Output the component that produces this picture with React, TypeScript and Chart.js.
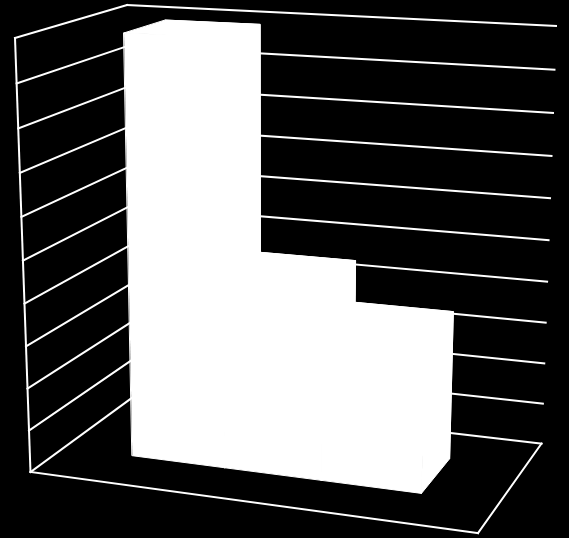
import { useEffect, useRef } from "react"
import { Chart, registerables } from "chart.js"

Chart.register(...registerables)

const categories = [""]
const seriesNames = ["Series 1", "Series 2", "Series 3"]
const series1 = [9.93]
const series2 = [4.55]
const series3 = [3.55]
const seriesValues = [series1, series2, series3]
const axisMax = 10
const axisStep = 1

const WIDTH = 569
const HEIGHT = 538

// box corners on screen: front/back, left/right, bottom/top
const FLB = [30.5, 472]
const FRB = [478, 533]
const BLB = [134.5, 396]
const BRB = [541.5, 443.6]
const FLT = [15, 38]
const FRT = [495, 55]
const BLT = [127, 5]
const BRT = [556, 26]

// perspective foreshortening along each axis
const warp = (t: number, a: number) => (t * a) / (1 + (a - 1) * t)

const DEPTH_FRONT = 0.3
const DEPTH_BACK = 0.7

function project(u: number, v: number, w: number) {
  const uu = warp(u, 0.92)
  const vv = warp(v, 0.95)
  const ww = warp(w, 1.15)
  const mix = (a: number[], b: number[], t: number) => [a[0] + (b[0] - a[0]) * t, a[1] + (b[1] - a[1]) * t]
  const bottom = mix(mix(FLB, FRB, uu), mix(BLB, BRB, uu), ww)
  const top = mix(mix(FLT, FRT, uu), mix(BLT, BRT, uu), ww)
  return mix(bottom, top, vv)
}

const box3d = {
  id: "box3d",
  beforeDatasetsDraw(chart: any) {
    const { ctx, chartArea: area } = chart
    const yScale = chart.scales.y
    const toU = (px: number) => (px - area.left) / (area.right - area.left)
    const toV = (px: number) => (area.bottom - px) / (area.bottom - area.top)

    const line = (a: number[], b: number[]) => {
      ctx.beginPath()
      ctx.moveTo(a[0], a[1])
      ctx.lineTo(b[0], b[1])
      ctx.stroke()
    }

    ctx.save()
    ctx.strokeStyle = yScale.options.grid.color
    ctx.lineWidth = yScale.options.grid.lineWidth
    ctx.lineCap = "square"

    // walls: one line per tick on the side wall and the back wall
    yScale.ticks.forEach((tick: any) => {
      const v = toV(yScale.getPixelForValue(tick.value))
      line(project(0, v, 0), project(0, v, 1))
      line(project(0, v, 1), project(1, v, 1))
    })

    // axis edges
    line(project(0, 0, 0), project(0, 1, 0))
    line(project(0, 0, 0), project(1, 0, 0))
    line(project(1, 0, 0), project(1, 0, 1))

    // bars, back to front faces
    chart.data.datasets.forEach((dataset: any, i: number) => {
      chart.getDatasetMeta(i).data.forEach((bar: any) => {
        const { x, y, base, width } = bar.getProps(["x", "y", "base", "width"], true)
        const u0 = toU(x - width / 2)
        const u1 = toU(x + width / 2)
        const v0 = toV(base)
        const v1 = toV(y)
        const faces = [
          [[u0, v0, DEPTH_BACK], [u1, v0, DEPTH_BACK], [u1, v1, DEPTH_BACK], [u0, v1, DEPTH_BACK]],
          [[u0, v1, DEPTH_FRONT], [u1, v1, DEPTH_FRONT], [u1, v1, DEPTH_BACK], [u0, v1, DEPTH_BACK]],
          [[u1, v0, DEPTH_FRONT], [u1, v0, DEPTH_BACK], [u1, v1, DEPTH_BACK], [u1, v1, DEPTH_FRONT]],
          [[u0, v0, DEPTH_FRONT], [u1, v0, DEPTH_FRONT], [u1, v1, DEPTH_FRONT], [u0, v1, DEPTH_FRONT]],
        ]
        ctx.fillStyle = dataset.backgroundColor
        ctx.strokeStyle = dataset.backgroundColor
        ctx.lineWidth = 1
        faces.forEach((face) => {
          ctx.beginPath()
          face.forEach((p, k) => {
            const s = project(p[0], p[1], p[2])
            if (k === 0) ctx.moveTo(s[0], s[1])
            else ctx.lineTo(s[0], s[1])
          })
          ctx.closePath()
          ctx.fill()
          ctx.stroke()
        })
      })
    })
    ctx.restore()

    // the flat bars are replaced by the boxes above
    return false
  },
}

export default function App() {
  const chartRef = useRef<HTMLCanvasElement>(null)

  useEffect(() => {
    if (!chartRef.current) return

    const chart = new Chart(chartRef.current, {
      type: "bar",
      data: {
        labels: categories,
        datasets: seriesValues.map((values, i) => ({
          label: seriesNames[i],
          data: values,
          backgroundColor: "#ffffff",
          categoryPercentage: 2 / 3,
          barPercentage: 1,
        })),
      },
      options: {
        responsive: false,
        animation: false,
        layout: { padding: 0 },
        scales: {
          x: { display: false },
          y: {
            display: false,
            min: 0,
            max: axisMax,
            ticks: { stepSize: axisStep },
            grid: { color: "#ffffff", lineWidth: 2 },
          },
        },
        plugins: {
          legend: { display: false },
          tooltip: { enabled: false },
        },
      },
      plugins: [box3d],
    })

    return () => chart.destroy()
  }, [])

  return (
    <div style={{ position: "fixed", left: 0, top: 0, width: WIDTH, height: HEIGHT, background: "#000000" }}>
      <canvas ref={chartRef} width={WIDTH} height={HEIGHT} style={{ display: "block" }} />
    </div>
  )
}
